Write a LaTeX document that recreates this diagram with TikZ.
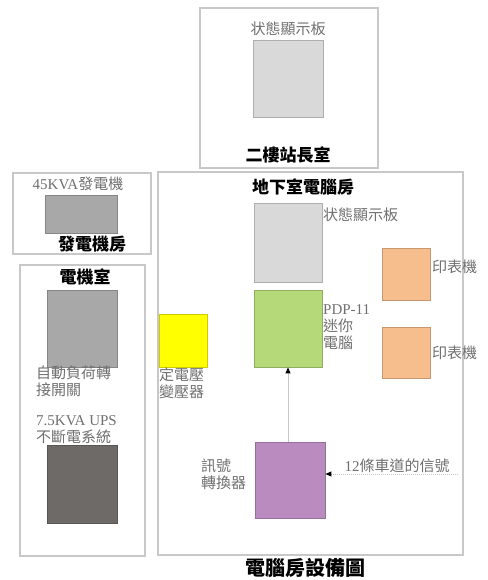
\documentclass[tikz,border=0pt]{standalone}
\usepackage{fontspec}
\setmainfont{Liberation Serif}
\newfontfamily\cjk{Noto Sans CJK TC}
\usetikzlibrary{arrows.meta}
\definecolor{roomline}{HTML}{C8C8C8}
\definecolor{txtgray}{HTML}{707070}
\tikzset{
  room/.style={draw=roomline, line width=1.2pt},
  dev/.style={draw=#1!80!black, fill=#1, line width=0.8pt, inner sep=0pt},
  lbl/.style={text=txtgray, font=\fontsize{15}{17}\selectfont\cjk, inner sep=0pt, align=left},
  ttl/.style={text=black, font=\fontsize{17}{19}\selectfont\cjk\bfseries, inner sep=0pt},
  conn/.style={draw=roomline, line width=1pt, -{Triangle[length=6pt,width=5pt,fill=black,color=black]}},
}
\definecolor{panel}{HTML}{D9D9D9}
\definecolor{gen}{HTML}{A8A8A8}
\definecolor{ups}{HTML}{6E6A68}
\definecolor{yel}{HTML}{FFFF00}
\definecolor{grn}{HTML}{B5D978}
\definecolor{org}{HTML}{F6BE8C}
\definecolor{pur}{HTML}{B98BBF}
\begin{document}
\begin{tikzpicture}[x=1pt,y=-1pt]
\useasboundingbox[fill=white] (0,0) rectangle (487,580);
% rooms
\draw[room] (200,8) rectangle (378,168);
\draw[room] (13,173) rectangle (151,254);
\draw[room] (20,265) rectangle (145,556);
\draw[room] (158,172) rectangle (463,555);
% top room
\node[lbl] (tlab) at (288,29) {状態顯示板};
\path[dev=panel] (253,40) rectangle (323,117);
\node[ttl] (t1) at (288,155) {二樓站長室};
% generator room
\node[lbl] (glab) at (78,184) {\addfontfeature{}\fontspec{Liberation Serif}45KVA\cjk 發電機};
\path[dev=gen] (45,195) rectangle (117,233);
\node[ttl] (t2) at (92,244) {發電機房};
% electric room
\node[ttl] (t3) at (85,277) {電機室};
\path[dev=gen] (47,290) rectangle (117,367);
\node[lbl, anchor=north west] (atslab) at (36,366) {自動負荷轉\\接開關};
\node[lbl, anchor=north west] (upslab) at (36,415) {{\fontspec{Liberation Serif}7.5KVA UPS}\\不斷電系統};
\path[dev=ups] (47,445) rectangle (117,523);
% basement
\node[ttl] (t4) at (303,187) {地下室電腦房};
\path[dev=panel] (254,203) rectangle (322,282);
\node[lbl, anchor=west] (plab) at (323,215) {状態顯示板};
\node[dev=grn, minimum width=68pt, minimum height=77pt] (pdp) at (288,328.5) {};
\node[lbl, anchor=north west] (pdplab) at (323,304) {{\fontspec{Liberation Serif}PDP-11}\\迷你\\電腦};
\path[dev=yel] (159,314) rectangle (207,367);
\node[lbl, anchor=north west] (ylab) at (159,368) {定電壓\\變壓器};
\path[dev=org] (382,248) rectangle (430,300);
\node[lbl, anchor=west] (o1lab) at (432,267) {印表機};
\path[dev=org] (382,327) rectangle (430,378);
\node[lbl, anchor=west] (o2lab) at (432,353) {印表機};
\node[dev=pur, minimum width=70pt, minimum height=76pt] (conv) at (290,480) {};
\node[lbl, anchor=north west] (clab) at (201,459) {訊號\\轉換器};
\node[lbl] (sig) at (397,466) {{\fontspec{Liberation Serif}12}條車道的信號};
\coordinate (sigend) at (458,474);
\draw[conn] (conv.north -| pdp.south) -- (pdp.south);
\draw[conn, densely dotted] (sigend) -- (conv.east |- sigend);
\node[text=black, font=\fontsize{20}{22}\selectfont\cjk\bfseries, inner sep=0pt] (main) at (305,568) {電腦房設備圖};
\end{tikzpicture}
\end{document}
